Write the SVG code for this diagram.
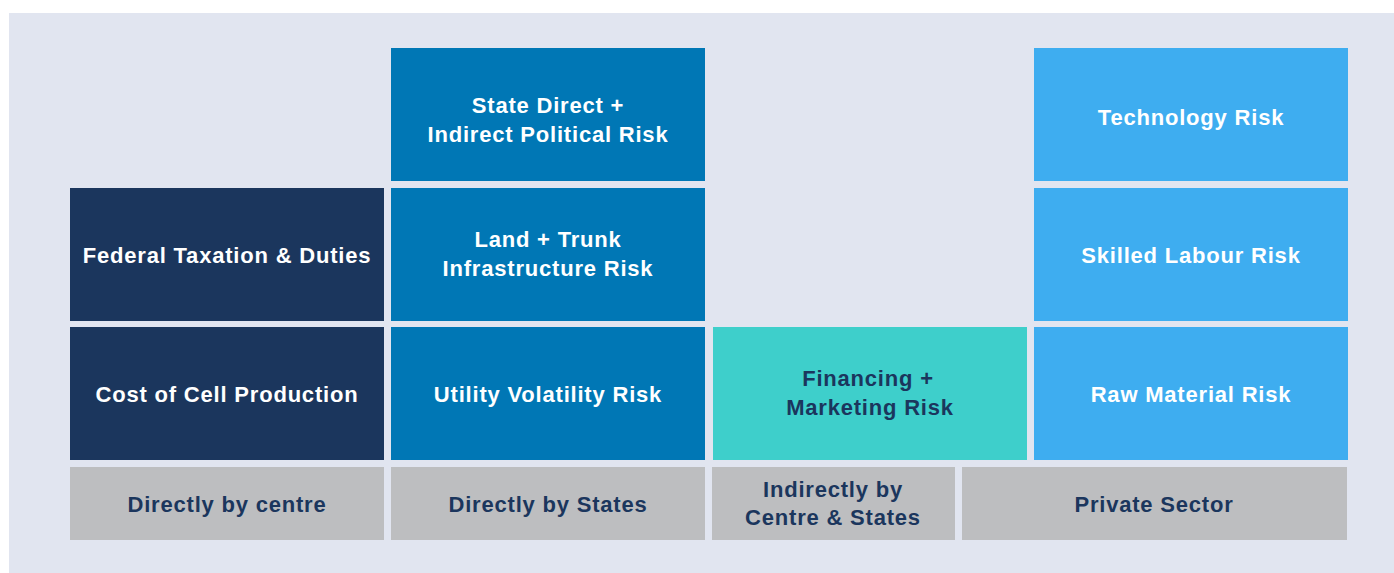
<svg xmlns="http://www.w3.org/2000/svg" width="1394" height="573" viewBox="0 0 1394 573">
<style>
.t{font-family:"Liberation Sans",Arial,sans-serif;font-weight:bold;font-size:22px;letter-spacing:0.8px;text-anchor:middle}
.w{fill:#ffffff}
.d{fill:#1b365d}
.navy{fill:#1b365d}
.blue{fill:#0077b5}
.teal{fill:#3ecfcb}
.lb{fill:#3eadf0}
.gray{fill:#bdbec0}
</style>
<rect x="0" y="0" width="1394" height="573" fill="#ffffff"/>
<rect x="9" y="13" width="1385" height="560" fill="#e1e5f0"/>
<g id="federal"><rect class="navy" x="70" y="188" width="314" height="133"/><text class="t w" x="227" y="263">Federal Taxation &amp; Duties</text></g>
<g id="cost"><rect class="navy" x="70" y="327" width="314" height="133"/><text class="t w" x="227" y="402">Cost of Cell Production</text></g>
<g id="state"><rect class="blue" x="391" y="48" width="314" height="133"/><text class="t w" x="548" y="113">State Direct +</text><text class="t w" x="548" y="142">Indirect Political Risk</text></g>
<g id="land"><rect class="blue" x="391" y="188" width="314" height="133"/><text class="t w" x="548" y="247">Land + Trunk</text><text class="t w" x="548" y="276">Infrastructure Risk</text></g>
<g id="utility"><rect class="blue" x="391" y="327" width="314" height="133"/><text class="t w" x="548" y="402">Utility Volatility Risk</text></g>
<g id="financing"><rect class="teal" x="713" y="327" width="314" height="133"/><text class="t d" x="868" y="386">Financing +</text><text class="t d" x="870" y="415">Marketing Risk</text></g>
<g id="technology"><rect class="lb" x="1034" y="48" width="314" height="133"/><text class="t w" x="1191" y="125">Technology Risk</text></g>
<g id="skilled"><rect class="lb" x="1034" y="188" width="314" height="133"/><text class="t w" x="1191" y="263">Skilled Labour Risk</text></g>
<g id="raw"><rect class="lb" x="1034" y="327" width="314" height="133"/><text class="t w" x="1191" y="402">Raw Material Risk</text></g>
<g id="centre"><rect class="gray" x="70" y="467" width="314" height="73"/><text class="t d" x="227" y="512">Directly by centre</text></g>
<g id="states"><rect class="gray" x="391" y="467" width="314" height="73"/><text class="t d" x="548" y="512">Directly by States</text></g>
<g id="indirect"><rect class="gray" x="712" y="467" width="243" height="73"/><text class="t d" x="833" y="497">Indirectly by</text><text class="t d" x="833" y="525">Centre &amp; States</text></g>
<g id="private"><rect class="gray" x="962" y="467" width="385" height="73"/><text class="t d" x="1154" y="512">Private Sector</text></g>
<g id="connectors"></g>
</svg>
